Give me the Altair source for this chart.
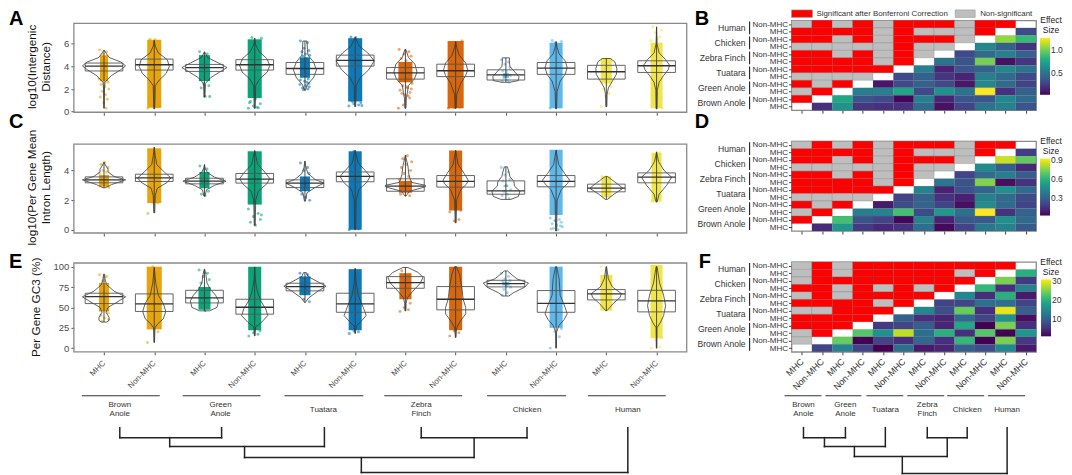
import altair as alt
import pandas as pd

FONT = "Liberation Sans"
COLORS = ["#E69F00", "#E69F00", "#009E73", "#009E73", "#0072B2", "#0072B2",
          "#D55E00", "#D55E00", "#56B4E9", "#56B4E9", "#F0E442", "#F0E442"]

# ---- panel A ----
A_box = [(3.6,4.03,4.3),(3.68,4.15,4.65),(3.56,3.9,4.18),(3.68,4.15,4.6),(3.3,3.82,4.35),(4.03,4.53,5.0),
         (2.88,3.44,3.9),(3.1,3.62,4.2),(2.8,3.26,3.7),(3.3,3.85,4.35),(2.88,3.53,4.1),(3.47,4.06,4.5)]
A_violin = [
 [(.3,0),(2,.01),(2.6,.02),(3.2,.15),(3.7,.33),(4.05,.43),(4.4,.33),(4.8,.1),(5.45,0)],
 [(.25,.01),(2.3,.02),(2.8,.1),(3.4,.24),(4,.3),(4.6,.26),(5.2,.08),(5.8,.02),(6.3,0)],
 [(1.3,.01),(2.5,.02),(3.0,.12),(3.5,.3),(3.9,.45),(4.3,.28),(4.8,.06),(5.3,0)],
 [(.3,.01),(2.3,.02),(2.9,.1),(3.5,.25),(4.1,.3),(4.7,.24),(5.3,.09),(5.9,.02),(6.5,0)],
 [(1.9,.01),(2.4,.05),(3,.17),(3.7,.23),(4.4,.17),(5,.06),(5.5,.05),(6.25,.04)],
 [(.45,.01),(2.3,.02),(3,.1),(3.7,.27),(4.5,.38),(5.2,.25),(5.8,.08),(6.6,0)],
 [(.3,.01),(1.2,.02),(1.7,.04),(2.3,.06),(2.9,.18),(3.5,.23),(4.2,.19),(4.8,.06),(5.5,.01)],
 [(.3,.01),(1.5,.02),(2.5,.1),(3.2,.2),(3.7,.24),(4.3,.2),(5,.07),(5.7,.02),(6.2,0)],
 [(2.6,.08),(2.75,.25),(3.1,.26),(3.5,.18),(4,.08),(4.4,.07),(4.76,.07)],
 [(.25,.01),(1.8,.02),(2.7,.08),(3.3,.18),(3.9,.22),(4.5,.18),(5.1,.06),(5.7,.02),(6.2,0)],
 [(.45,.01),(1.5,.015),(2.1,.04),(2.7,.12),(3.3,.2),(3.8,.21),(4.4,.17),(4.7,.08)],
 [(.25,.01),(1.9,.015),(2.6,.05),(3.2,.14),(3.7,.23),(4.1,.26),(4.6,.18),(5.2,.05),(6,.01),(7.5,0)],
]
A_cloud = [(2.7,5.0,.08),(.35,6.35,.14),(2.7,5.0,.11),(1.2,6.4,.14),(3.0,4.8,.1),(.9,6.5,.14),
           (2.6,4.4,.14),(.3,6.25,.16),(3.0,3.4,.06),(.3,6.1,.13),(2.5,4.75,.11),(.3,6.1,.12)]
A_points = [
 [5.45,5.3,5.1,2.6,2.4,2.2,2.0,1.8,1.5,1.3,1.1,.8,.3,2.9],
 [.3,.4,.6,.5,6.4,6.35],
 [5.3,5.1,2.5,2.3,2.1,1.35,1.35],
 [.3,.35,.5,.7,.9,1.1,6.5,6.55,.4,.8],
 [6.25,6.1,5.6,5.4,5.3,5.1,5.0,4.9,4.7,4.6,2.9,2.7,2.6,2.4,2.3,2.2,2.1,2.0,1.95,2.5,2.8],
 [.5,.6,.7,.8,6.6,6.55,.55,.9],
 [5.5,5.3,5.1,4.9,4.7,4.5,2.5,2.3,2.1,1.9,1.7,1.5,1.4,.3,2.2,2.0,1.6,1.2,.6],
 [.3,.4,.35,6.25],
 [4.6,4.4,4.2,3.9,3.6,3.5,3.2,3,2.8,2.7,2.6],
 [.3,.4,6.1,6.2,6.3],
 [.45,1.6,1.4,2.2,2.0,2.4],
 [6.3,6.6,7,7.2,7.5,6.4,.3],
]

# ---- panel C ----
C_box = [(3.17,3.37,3.57),(3.26,3.5,3.75),(3.1,3.28,3.48),(3.15,3.42,3.8),(2.85,3.15,3.37),(3.24,3.6,3.9),
         (2.6,2.94,3.44),(2.88,3.26,3.66),(2.4,2.63,3.3),(2.9,3.26,3.66),(2.56,2.81,3.08),(3.17,3.55,3.84)]
C_violin = [
 [(2.83,.02),(3.05,.15),(3.37,.43),(3.6,.2),(3.9,.08),(4.1,.08),(4.3,.04),(4.56,0)],
 [(1.15,.01),(2.3,.02),(2.8,.06),(3.2,.26),(3.5,.33),(3.9,.2),(4.4,.05),(5.0,.02),(5.57,0)],
 [(2.27,.01),(2.7,.04),(3.0,.2),(3.28,.43),(3.55,.2),(3.85,.06),(4.1,.02),(4.4,0)],
 [(.3,.01),(2,.02),(2.6,.07),(3.1,.24),(3.45,.3),(3.9,.2),(4.4,.06),(5.35,0)],
 [(1.93,.01),(2.5,.04),(2.85,.2),(3.15,.38),(3.4,.2),(3.8,.06),(4.2,.02),(4.63,0)],
 [(0,.01),(2,.02),(2.7,.07),(3.2,.23),(3.6,.3),(4,.2),(4.5,.06),(5.37,0)],
 [(2.27,.01),(2.6,.08),(2.9,.4),(3.0,.4),(3.2,.12),(3.7,.07),(4.3,.05),(5.03,0)],
 [(.47,.01),(2,.02),(2.7,.1),(3.1,.22),(3.35,.25),(3.8,.17),(4.4,.05),(5.37,0)],
 [(2.05,.1),(2.25,.25),(2.6,.28),(2.95,.17),(3.25,.16),(3.6,.08),(3.9,.06),(4.25,.03)],
 [(-.08,.01),(2,.02),(2.7,.1),(3.1,.22),(3.35,.27),(3.8,.17),(4.4,.05),(5.37,0)],
 [(2.05,.02),(2.4,.15),(2.8,.33),(3.1,.22),(3.4,.1),(3.6,.02)],
 [(1.87,.01),(2.4,.05),(3,.2),(3.55,.3),(4,.15),(4.6,.04),(5.26,0)],
]
C_cloud = [(2.9,3.7,.1),(1.8,5.5,.14),(2.8,3.9,.1),(1.7,5.3,.14),(2.6,3.6,.1),(0,5.3,.13),
           (2.5,3.3,.13),(1.3,5.35,.13),(2.9,3.0,.05),(1.0,5.4,.13),(2.2,3.6,.1),(1.9,5.2,.1)]
C_points = [
 [3.8,3.9,4.0,4.2,4.4,4.55,2.85],
 [1.1,1.8,1.85],
 [4.3,4.1,4.0,2.6,2.4,2.3],
 [1.4,1.1,.9,.7,.5,.3,1.0],
 [4.5,4.2,4.0,3.8,2.4,2.2,2.0],
 [0,.05,5.3],
 [3.4,3.6,3.8,4.0,4.2,4.4,4.6,4.8,5.0,2.4,2.3],
 [1.2,.7,.6,1.3],
 [4.2,3.9,3.7,3.4,3.3,3,2.7,2.6,2.4,2.3,2.1],
 [.8,.7,.6,.5,.4,.3,.2,.1,0,.05,.25,.65],
 [3.6,2.2],
 [1.9,5.2],
]

# ---- panel E ----
E_box = [(54.7,63.3,67.4),(45,54.3,66.6),(55.5,61.7,71),(41.7,50.2,60),(70.3,75.6,79.7),(44,54.3,67.4),
         (73.5,80.5,87.8),(47,60,75.6),(75.2,79.2,83.3),(44,55,70.7),(59.2,66.6,71.9),(44.5,58,71)]
E_violin = [
 [(32,.05),(34,.1),(38,.1),(44,.04),(50,.08),(58,.3),(63,.43),(70,.2),(78,.05),(85,.02),(90.7,.01)],
 [(7,.005),(25,.015),(30,.07),(36,.18),(45,.23),(55,.18),(65,.08),(80,.03),(99,0)],
 [(45.8,.1),(50,.25),(58,.28),(65,.22),(72,.12),(80,.05),(90,.03),(96.8,.005)],
 [(15,.005),(26,.02),(32,.14),(40,.26),(48,.22),(58,.12),(70,.05),(85,.01),(99.7,0)],
 [(56,.005),(62,.08),(70,.26),(76,.42),(82,.24),(88,.06),(92.7,.03)],
 [(18,.005),(27,.02),(33,.12),(40,.22),(50,.16),(65,.06),(80,.02),(98,0)],
 [(45.8,.01),(55,.015),(62,.04),(70,.15),(80,.3),(87,.35),(93,.25),(99,.05)],
 [(13,.005),(25,.02),(32,.08),(42,.2),(50,.2),(60,.15),(75,.12),(90,.08),(100,.02)],
 [(64,.06),(68,.15),(75,.38),(80,.45),(85,.22),(90,.12),(94.8,.03)],
 [(0,.005),(20,.01),(28,.06),(35,.16),(42,.22),(50,.18),(65,.08),(85,.06),(100,.01)],
 [(45.8,.01),(55,.14),(62,.27),(67,.3),(75,.12),(85,.04),(100,.005)],
 [(0,.005),(25,.01),(32,.08),(40,.14),(52,.18),(65,.14),(80,.06),(100,.01)],
]
E_cloud = [(45,80,.1),(23,100,.15),(47,75,.12),(22,100,.13),(65,88,.11),(22,97,.13),
           (60,92,.12),(22,100,.13),(77,81,.07),(25,100,.13),(46,90,.12),(12,102,.12)]
E_points = [
 [90,88,82,43,40,37,35,33],
 [7,20,100],
 [96,92,88,84,80,46],
 [15,17,19,21],
 [92,90,60,57],
 [18,20,21],
 [45,47,50,55,95],
 [15,19,21],
 [92,88,85,83,82,76,75,72,68,65],
 [0,14,20,24],
 [100,87,47],
 [0,1,10,12,15],
]

# ---- heatmaps: rows from top, columns left to right ----
R, G, W = "R", "G", "W"
B_cells = [
 [G,R,G,R,G,R,R,R,G,R,R,W],
 [R,R,R,R,G,R,G,G,G,R,W,.3],
 [R,R,G,R,G,R,R,R,G,W,1.05,.85],
 [G,G,G,G,G,R,G,G,W,.6,.4,.2],
 [R,R,G,R,G,R,G,W,.3,.45,.55,.4],
 [R,R,R,R,G,R,W,.5,.35,1.0,.08,.22],
 [R,R,R,R,R,W,.55,.15,.35,.4,.6,.5],
 [G,G,G,G,W,.3,.4,.22,.15,.55,.45,.3],
 [R,G,R,W,.1,.3,.4,.3,.1,.6,.45,.27],
 [G,R,W,.55,.55,.75,.3,.65,.5,1.25,.2,.4],
 [R,W,.75,.35,.3,.05,.55,.15,.35,.35,.6,.45],
 [W,.2,.65,.22,.2,.2,.45,.08,.28,.5,.55,.35],
]
D_cells = [
 [G,R,G,R,G,R,R,R,G,R,R,W],
 [R,R,R,R,G,R,G,G,G,R,W,.18],
 [R,R,G,R,G,R,R,R,G,W,.85,.7],
 [G,G,G,G,G,R,G,G,W,.45,.28,.12],
 [R,R,G,R,G,R,G,W,.2,.33,.4,.28],
 [R,R,R,R,G,R,W,.37,.25,.75,.05,.15],
 [R,R,R,R,R,W,.42,.1,.25,.3,.47,.33],
 [G,G,G,G,W,.2,.3,.15,.1,.42,.33,.22],
 [R,G,R,W,.08,.22,.3,.2,.05,.45,.33,.2],
 [G,R,W,.4,.42,.65,.22,.5,.35,.92,.15,.3],
 [R,W,.65,.25,.2,.03,.42,.1,.27,.27,.47,.33],
 [W,.13,.5,.17,.12,.15,.35,.04,.2,.38,.42,.27],
]
F_cells = [
 [G,R,G,R,R,R,R,R,R,R,R,W],
 [G,R,G,R,R,R,R,R,G,R,W,20],
 [G,R,R,R,R,R,R,R,R,W,25,6],
 [R,R,G,R,G,R,G,R,W,21,5,14],
 [G,R,G,R,R,R,R,W,15,5,20,3],
 [R,R,R,R,G,R,W,7,7,12,12,7],
 [G,G,R,R,R,W,15,8,24,5,30,10],
 [R,R,R,R,W,10,5,4,11,7,16,2],
 [R,R,R,W,6,7,10,4,19,1,25,5],
 [G,R,W,23,16,28,12,20,5,23,1,17],
 [G,W,24,1,7,5,11,5,21,1,25,6],
 [W,7,14,7,1,12,3,4,10,8,15,3],
]
species_rows = ["Human", "Chicken", "Zebra Finch", "Tuatara", "Green Anole", "Brown Anole"]
STATUS = ["Significant after Bonferroni Correction", "Non-significant"]
STATUS_COLORS = ["#ff0000", "#bebebe"]

# ---- bottom strip: species bars, labels and dendrogram ----
L_bars = [(8,86),(109,187),(211,290),(311,389),(414,493),(515,593)]
L_names = ["Brown\nAnole","Green\nAnole","Tuatara","Zebra\nFinch","Chicken","Human"]
L_name_x = [46,147,250,348,454,555]
NAME_Y = [53,53,58,53,58,58]
L_tree = [(46,76,46,86),(148,76,148,86),(46,86,148,86),(251,76,251,95),(96,86,96,95),(96,95,251,95),
          (171,95,171,106),(348,76,348,86),(454,76,454,86),(348,86,454,86),(401,86,401,106),(171,106,401,106),
          (288,106,288,121),(555,76,555,121),(288,121,555,121)]
R_bars = [(-7,30),(34,70),(75,112),(116,153),(156,193),(197,234)]
R_names = L_names
R_name_x = [12,54,94,136,176,216]
R_tree = [(12,76,12,86),(54,76,54,86),(12,86,54,86),(94,76,94,95),(33,86,33,95),(33,95,94,95),
          (63,95,63,105),(136,76,136,86),(176,76,176,86),(136,86,176,86),(156,86,156,105),(63,105,156,105),
          (111,105,111,122),(216,76,216,122),(111,122,216,122)]

JITTER = [-.9,.5,-.2,.8,-.6,.1,.95,-.4,.3,-.75,.65,-.05,.4,-1,.2,.85,-.5,.6,-.3,.75]
FRAME = "#8a8a8a"
XS = alt.Scale(domain=[0.4, 12.6], nice=False, zero=False)


def letter(ch, x, y):
    return alt.Chart(pd.DataFrame({"t": [ch]})).mark_text(
        font=FONT, fontWeight="bold", fontSize=20, align="left", baseline="alphabetic", color="black"
    ).encode(text="t:N", x=alt.value(x), y=alt.value(y))


def tree_layers(bars, names, name_x, tree, width, height):
    xs = alt.Scale(domain=[0, width], nice=False, zero=False)
    ys = alt.Scale(domain=[0, -height], nice=False, zero=False)
    bd = pd.DataFrame({"x0": [b[0] for b in bars], "x1": [b[1] for b in bars], "y": [44] * 6})
    nd = pd.DataFrame({"x": name_x, "name": names, "y": NAME_Y})
    td = pd.DataFrame(tree, columns=["x0", "y0", "x1", "y1"])
    b = alt.Chart(bd).mark_rule(color="#333", strokeWidth=1.1).encode(
        x=alt.X("x0:Q", scale=xs, axis=None), x2="x1:Q", y=alt.Y("y:Q", scale=ys, axis=None))
    n = alt.Chart(nd).mark_text(font=FONT, fontSize=8, color="#333", lineBreak="\n", lineHeight=9.5).encode(
        x=alt.X("x:Q", scale=xs, axis=None), y=alt.Y("y:Q", scale=ys, axis=None), text="name:N")
    t = alt.Chart(td).mark_rule(color="#222", strokeWidth=1.5, strokeCap="square").encode(
        x=alt.X("x0:Q", scale=xs, axis=None), x2="x1:Q", y=alt.Y("y0:Q", scale=ys, axis=None), y2="y1:Q")
    return [b, n, t]


def violin_panel(box, violin, cloud, points, domain, frame_top, height, ticks, title, title_x, ch, lx, ly,
                 labels=False, extra=()):
    ys = alt.Scale(domain=domain, nice=False, zero=False)
    pos = list(range(1, 13))
    cdf = pd.DataFrame([{"i": p, "x0": p - c[2], "x1": p + c[2], "y0": c[0], "y1": c[1], "col": COLORS[p-1]}
                        for p, c in zip(pos, cloud)])
    pts = []
    for p, c, ylist in zip(pos, cloud, points):
        w = max(c[2], .1)
        for k, v in enumerate(ylist):
            pts.append({"x": p + JITTER[k % len(JITTER)] * w, "y": v, "col": COLORS[p-1]})
    pdf = pd.DataFrame(pts)
    vr = []
    wh = []
    for p, shape in zip(pos, violin):
        # closed outline: up the left side, back down the right side
        ring = [(y, p - h) for y, h in shape] + [(y, p + h) for y, h in reversed(shape)]
        ring.append(ring[0])
        for k, (y, x) in enumerate(ring):
            vr.append({"i": p, "k": k, "y": y, "x": x})
        wh.append({"x": p, "y0": shape[0][0], "y1": shape[-1][0]})
    vdf = pd.DataFrame(vr)
    wdf = pd.DataFrame(wh)
    bdf = pd.DataFrame([{"i": p, "x0": p - .375, "x1": p + .375, "q1": b[0], "m": b[1], "q3": b[2]}
                        for p, b in zip(pos, box)])
    axis_kw = dict(values=pos, title=None, grid=False, domain=False, tickColor="#555", tickSize=3,
                   labelFont=FONT, labelColor="#4d4d4d")
    if labels:
        xaxis = alt.Axis(labelAngle=-45, labelAlign="right", labelBaseline="middle", labelFontSize=8,
                         labelPadding=7, labelFlush=False, labelOverlap=False, labelBound=False,
                         labelExpr="datum.value % 2 == 1 ? 'MHC' : 'Non-MHC'", **axis_kw)
    else:
        xaxis = alt.Axis(labels=False, **axis_kw)
    yaxis = alt.Axis(values=ticks, title=title, grid=False, domain=False, tickColor="#555", tickSize=3,
                     labelFont=FONT, labelColor="#4d4d4d", labelFontSize=9.5, labelPadding=2,
                     titleFont=FONT, titleFontWeight="normal", titleFontSize=11.8, titleColor="#111",
                     titleX=title_x)
    colors = alt.Color("col:N", scale=None)
    xn = lambda f: alt.X(f, scale=XS, axis=None)
    yn = lambda f: alt.Y(f, scale=ys, axis=None)
    fdf = pd.DataFrame({"x0": [.4], "x1": [12.6], "y0": [domain[0]], "y1": [frame_top]})
    frame = alt.Chart(fdf).mark_rect(fillOpacity=0, stroke=FRAME, strokeWidth=1.3).encode(
        x=alt.X("x0:Q", scale=XS, axis=xaxis), x2="x1:Q", y=alt.Y("y0:Q", scale=ys, axis=yaxis), y2="y1:Q")
    clouds = alt.Chart(cdf).mark_rect(opacity=.95).encode(
        x=xn("x0:Q"), x2="x1:Q", y=yn("y0:Q"), y2="y1:Q", color=colors)
    dots = alt.Chart(pdf).mark_circle(size=9, opacity=.55).encode(x=xn("x:Q"), y=yn("y:Q"), color=colors)
    area = alt.Chart(vdf).mark_line(color="#3a3a3a", strokeWidth=.8).encode(
        y=yn("y:Q"), x=xn("x:Q"), detail="i:N", order="k:Q")
    whisk = alt.Chart(wdf).mark_rule(color="#3a3a3a", strokeWidth=.9).encode(
        x=xn("x:Q"), y=yn("y0:Q"), y2="y1:Q")
    boxes = alt.Chart(bdf).mark_rect(fillOpacity=0, stroke="#555", strokeWidth=.9).encode(
        x=xn("x0:Q"), x2="x1:Q", y=yn("q1:Q"), y2="q3:Q")
    med = alt.Chart(bdf).mark_rule(color="#333", strokeWidth=1.3).encode(
        x=xn("x0:Q"), x2="x1:Q", y=yn("m:Q"))
    return alt.layer(frame, clouds, dots, area, whisk, boxes, med, *extra, letter(ch, lx, ly)).resolve_scale(
        x="independent", y="independent").properties(width=614, height=height)


def legend_layers():
    # hand-placed key above panel B: wide swatches with their labels
    layers = []
    for name, colour, x0, x1, tx in zip(STATUS, STATUS_COLORS, [0, 164], [21, 184], [25, 189]):
        row = pd.DataFrame({"t": [name]})
        layers.append(alt.Chart(row).mark_rect(color=colour, stroke="#999", strokeWidth=.6).encode(
            x=alt.value(x0), x2=alt.value(x1), y=alt.value(-10.5), y2=alt.value(-3)))
        layers.append(alt.Chart(row).mark_text(font=FONT, fontSize=7.9, color="#333", align="left",
                                               baseline="middle").encode(
            text="t:N", x=alt.value(tx), y=alt.value(-6.7)))
    return layers


def heat_panel(cells, vdomain, ticks, ch, lx, ly, legend_top=False, labels=False, extra=()):
    rec = []
    for r, row in enumerate(cells):
        for c, v in enumerate(row):
            if v == W:
                continue
            rec.append({"x0": c, "x1": c + 1, "y0": 11 - r, "y1": 12 - r,
                        "status": {R: STATUS[0], G: STATUS[1]}.get(v),
                        "v": v if not isinstance(v, str) else None})
    df = pd.DataFrame(rec)
    xs = alt.Scale(domain=[0, 12], nice=False, zero=False)
    ys = alt.Scale(domain=[0, 12], nice=False, zero=False)
    ticks_pos = [i + .5 for i in range(12)]
    kw = dict(values=ticks_pos, title=None, grid=False, domain=False, tickColor="#444", tickSize=3,
              labelFont=FONT, labelColor="#333", labelOverlap=False,
              labelFlush=False, labelBound=False)
    xexpr = "floor(datum.value) % 2 == 0 ? 'MHC' : 'Non-MHC'"
    if labels:
        xaxis = alt.Axis(labelAngle=-45, labelAlign="right", labelBaseline="middle", labelPadding=5,
                         labelFontSize=9, labelExpr=xexpr, **kw)
    else:
        xaxis = alt.Axis(labels=False, **kw)
    yaxis = alt.Axis(labelExpr=xexpr, labelPadding=1, labelFontSize=8, **kw)
    st_scale = alt.Scale(domain=STATUS, range=STATUS_COLORS)
    st = alt.Chart(df[df["status"].notna()]).mark_rect(stroke="#555", strokeWidth=.35, strokeOpacity=.6).encode(
        x=alt.X("x0:Q", scale=xs, axis=xaxis), x2="x1:Q",
        y=alt.Y("y0:Q", scale=ys, axis=yaxis), y2="y1:Q",
        color=alt.Color("status:N", scale=st_scale, legend=None))
    xn = lambda f: alt.X(f, scale=xs, axis=None)
    yn = lambda f: alt.Y(f, scale=ys, axis=None)
    val = alt.Chart(df[df["v"].notna()]).mark_rect(stroke="#555", strokeWidth=.3, strokeOpacity=.4).encode(
        x=xn("x0:Q"), x2="x1:Q", y=yn("y0:Q"), y2="y1:Q",
        color=alt.Color("v:Q", scale=alt.Scale(scheme="viridis", domain=vdomain, nice=False, zero=False),
                        legend=alt.Legend(title=["Effect", "Size"], orient="none", legendX=249, legendY=-4,
                                          values=ticks, gradientLength=57, gradientThickness=10, padding=0,
                                          titleFont=FONT, titleFontWeight="normal", titleFontSize=8.5,
                                          titleColor="#222", titleAlign="center", titleAnchor="middle",
                                          titlePadding=3, titleLineHeight=10, labelOffset=1,
                                          labelFont=FONT, labelFontSize=8.5, labelColor="#333")))
    names = pd.DataFrame({"name": species_rows, "y": [11 - 2 * i for i in range(6)],
                          "y0": [10.15 - 2 * i for i in range(6)], "y1": [11.85 - 2 * i for i in range(6)]})
    side = alt.Chart(names).mark_text(font=FONT, fontSize=8.6, color="#333", align="right").encode(
        text="name:N", x=alt.value(-46), y=yn("y:Q"))
    bars = alt.Chart(names).mark_rule(color="#222", strokeWidth=1.1).encode(
        x=alt.value(-42), y=yn("y0:Q"), y2="y1:Q")
    key = legend_layers() if legend_top else []
    return alt.layer(st, val, side, bars, *key, *extra, letter(ch, lx, ly)).resolve_scale(
        color="independent", x="independent", y="independent").properties(
        width=245, height=90, view=alt.ViewBackground(stroke=FRAME, strokeWidth=1.3))


A = violin_panel(A_box, A_violin, A_cloud, A_points, [-.05, 8.07], 7.8, 92, [0, 2, 4, 6],
                 ["log10(Intergenic", "Distance)"], -36, "A", -65, 5)
C = violin_panel(C_box, C_violin, C_cloud, C_points, [-.22, 5.98], 5.78, 92, [0, 2, 4],
                 ["log10(Per Gene Mean", "Intron Length)"], -36, "C", -65, -13)
E = violin_panel(E_box, E_violin, E_cloud, E_points, [-4.5, 105.8], 104.5, 90, [0, 25, 50, 75, 100],
                 "Per Gene GC3 (%)", -32, "E", -65, 6, labels=True,
                 extra=tree_layers(L_bars, L_names, L_name_x, L_tree, 614, 90))
B = heat_panel(B_cells, [.03, 1.25], [.5, 1.0], "B", -97, 5, legend_top=True)
D = heat_panel(D_cells, [.02, .92], [.3, .6, .9], "D", -97, -13)
F = heat_panel(F_cells, [1, 31], [10, 20, 30], "F", -93, 6, labels=True,
               extra=tree_layers(R_bars, R_names, R_name_x, R_tree, 245, 90))

chart = alt.concat(A, B, C, D, E, F, columns=2, spacing=alt.RowColnumber(row=29, column=105),
                   bounds="flush", align="each").properties(padding=0).configure_view(stroke="transparent")
chart.save("out.html", embed_options={"renderer": "svg", "actions": False})
